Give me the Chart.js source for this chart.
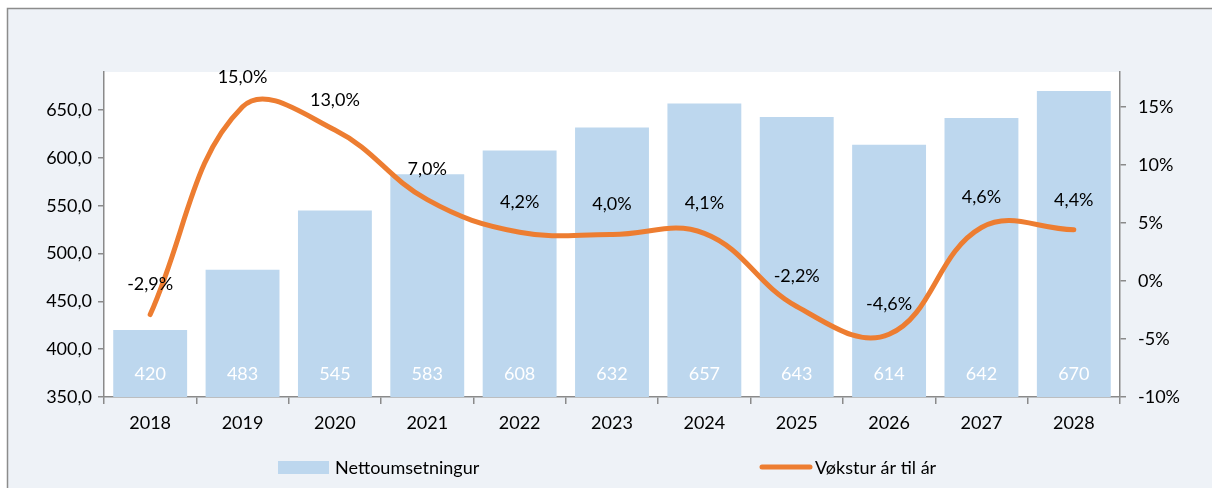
<!DOCTYPE html>
<html>
<head>
<meta charset="utf-8">
<script src="https://cdn.jsdelivr.net/npm/chart.js@4.4.0/dist/chart.umd.min.js"></script>
<style>
html, body { margin: 0; padding: 0; background: #fff; }
#c { display: block; }
</style>
</head>
<body>
<canvas id="c" width="1212" height="488"></canvas>
<script>
// data
var years = ['2018', '2019', '2020', '2021', '2022', '2023', '2024', '2025', '2026', '2027', '2028'];
var turnover = [420, 483, 545, 583, 608, 632, 657, 643, 614, 642, 670];
var growth = [-2.9, 15.0, 13.0, 7.0, 4.2, 4.0, 4.1, -2.2, -4.6, 4.6, 4.4];
var seriesNames = ['Nettoumsetningur', 'Vøkstur ár til ár'];

var FONT = 'Lato, "Open Sans", sans-serif';
var BAR_COL = '#bdd7ee';
var LINE_COL = '#ed7d31';
var AXIS_COL = '#8a8a8a';

function comma(v, d) { return v.toFixed(d).replace('.', ','); }

// background, frame and white plot area
const bgPlugin = {
    id: 'bg',
    beforeDraw(chart) {
        const c = chart.ctx, a = chart.chartArea;
        c.save();
        c.fillStyle = '#fff';
        c.fillRect(0, 0, chart.width, chart.height);
        c.fillStyle = '#eef2f7';
        c.fillRect(7, 8, chart.width - 7, chart.height - 8);
        c.strokeStyle = '#8c8c8c';
        c.lineWidth = 1.5;
        c.beginPath();
        c.moveTo(7.5, chart.height);
        c.lineTo(7.5, 8.5);
        c.lineTo(chart.width, 8.5);
        c.stroke();
        c.fillStyle = '#fff';
        c.fillRect(a.left, a.top, a.right - a.left, a.bottom - a.top);
        c.restore();
    }
};

// value labels on bars and line
const labelPlugin = {
    id: 'vlabels',
    afterDatasetsDraw(chart) {
        const c = chart.ctx;
        c.save();
        c.font = '18px ' + FONT;
        c.textAlign = 'center';
        c.textBaseline = 'middle';
        const barMeta = chart.getDatasetMeta(0);
        c.fillStyle = '#fff';
        barMeta.data.forEach(function (el, i) {
            c.fillText(String(turnover[i]), el.x, chart.chartArea.bottom - 23);
        });
        const lineMeta = chart.getDatasetMeta(1);
        c.fillStyle = '#000';
        lineMeta.data.forEach(function (el, i) {
            c.fillText(comma(growth[i], 1) + '%', el.x, el.y - 30);
        });
        c.restore();
    }
};

// legend drawn at the bottom, spread wide like the original
const legendPlugin = {
    id: 'botlegend',
    afterDraw(chart) {
        const c = chart.ctx;
        const y = 467;
        c.save();
        c.font = '18px ' + FONT;
        c.textBaseline = 'middle';
        c.textAlign = 'left';
        c.fillStyle = BAR_COL;
        c.fillRect(278, y - 6, 51, 13);
        c.fillStyle = '#000';
        c.fillText(seriesNames[0], 335, y + 1);
        c.strokeStyle = LINE_COL;
        c.lineWidth = 5;
        c.lineCap = 'round';
        c.beginPath();
        c.moveTo(762, y);
        c.lineTo(810, y);
        c.stroke();
        c.fillText(seriesNames[1], 815, y + 1);
        c.restore();
    }
};

const ctx = document.getElementById('c').getContext('2d');
const chart = new Chart(ctx, {
    data: {
        labels: years,
        datasets: [
            {
                type: 'bar',
                label: seriesNames[0],
                data: turnover,
                backgroundColor: BAR_COL,
                yAxisID: 'y',
                categoryPercentage: 1.0,
                barPercentage: 0.8,
                order: 2
            },
            {
                type: 'line',
                label: seriesNames[1],
                data: growth,
                borderColor: LINE_COL,
                borderWidth: 5,
                borderCapStyle: 'round',
                pointRadius: 0,
                tension: 0.4,
                yAxisID: 'y1',
                order: 1
            }
        ]
    },
    options: {
        responsive: false,
        animation: false,
        layout: { padding: { top: 72, left: 7, right: 0, bottom: 0 } },
        plugins: {
            legend: { display: false },
            tooltip: { enabled: false }
        },
        scales: {
            x: {
                grid: { display: true, drawOnChartArea: false, tickLength: 7, color: AXIS_COL, lineWidth: 1.5, offset: true },
                border: { color: AXIS_COL, width: 1.5 },
                ticks: { color: '#000', font: { family: FONT, size: 18 }, padding: 8 },
                afterFit(s) { s.height = 91; }
            },
            y: {
                position: 'left',
                min: 350,
                max: 690,
                grid: { drawOnChartArea: false, tickLength: 6, color: AXIS_COL, lineWidth: 1.5 },
                border: { color: AXIS_COL, width: 1.5 },
                ticks: {
                    stepSize: 50,
                    includeBounds: false,
                    color: '#000',
                    font: { family: FONT, size: 18 },
                    padding: 6,
                    callback: function (v) { return comma(v, 1); }
                },
                afterFit(s) { s.width = 97; }
            },
            y1: {
                position: 'right',
                min: -10,
                max: 18,
                grid: { drawOnChartArea: false, tickLength: 6, color: AXIS_COL, lineWidth: 1.5 },
                border: { color: AXIS_COL, width: 1.5 },
                ticks: {
                    stepSize: 5,
                    includeBounds: false,
                    color: '#000',
                    font: { family: FONT, size: 18 },
                    padding: 12,
                    callback: function (v) { return v + '%'; }
                },
                afterFit(s) { s.width = 92; }
            }
        }
    },
    plugins: [bgPlugin, labelPlugin, legendPlugin]
});
</script>
</body>
</html>
